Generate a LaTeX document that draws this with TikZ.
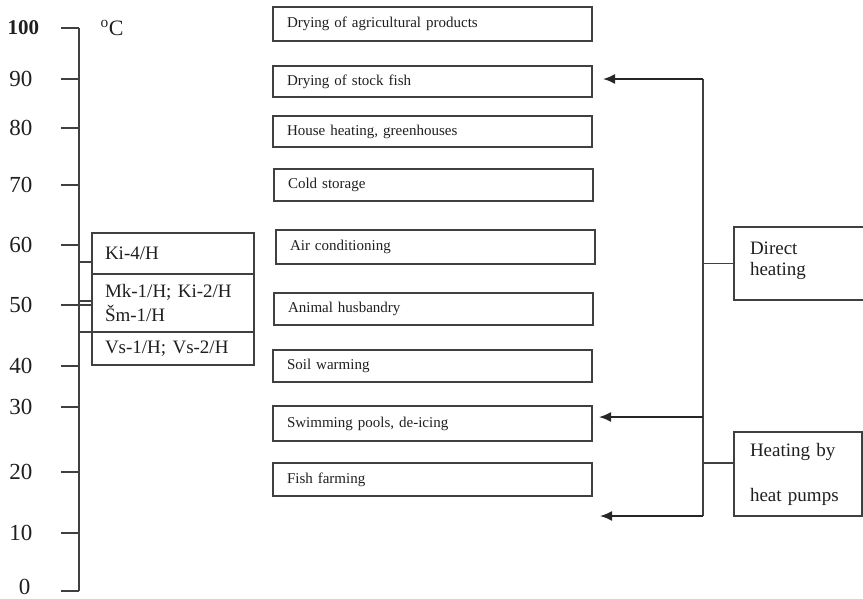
\documentclass[tikz,border=0pt]{standalone}
\usepackage{fontspec}
\setmainfont{Liberation Serif}
\usetikzlibrary{arrows.meta,positioning}

\begin{document}
\begin{tikzpicture}[
  x=1pt,y=-1pt,
  color=black!75, line width=1.1pt,
  every node/.style={text=black!88},
  usebox/.style={draw,rectangle,anchor=north west,outer sep=0pt,text width=291pt,inner xsep=14pt,inner ysep=0pt,align=left,font=\fontsize{15}{18}\selectfont},
  site/.style={draw,rectangle,anchor=north west,outer sep=0pt,text width=136pt,inner xsep=13pt,inner ysep=0pt,align=left,font=\fontsize{19}{24}\selectfont},
  mode/.style={draw,rectangle,anchor=north west,outer sep=0pt,inner xsep=16pt,inner ysep=0pt,align=left,font=\fontsize{19}{21}\selectfont},
  tick/.style={font=\fontsize{23}{23}\selectfont,anchor=east,inner sep=0pt},
  feed/.style={->,line width=1.8pt,black!85},
  >={Latex[length=12pt,width=10pt]}]
  \useasboundingbox (0,0) rectangle (863,598);
  % temperature scale
  \coordinate (axtop) at (79,28);
  \coordinate (axbot) at (79,591);
  \draw (axtop) -- (axbot);
  \draw (61,28) -- (axtop);
  \node[font=\fontsize{21}{21}\selectfont\bfseries,anchor=west,inner sep=0pt] (l100) at (7,28) {100};
  \foreach \v/\y in {90/79,80/128,70/185,60/245,50/305,40/366,30/407,20/472,10/533}{
    \draw (61,\y) -- (79,\y);
    \node[tick] (l\v) at (33,\y) {\v};
  }
  \draw (61,591) -- (axbot);
  \node[tick] (l0) at (31,587) {0};
  \node[font=\fontsize{22}{22}\selectfont,anchor=west,inner sep=0pt] (unit) at (100,28) {\textsuperscript{o}C};
  % sites
  \node[site,minimum height=41pt] (ki4) at (92,233) {Ki-4/H};
  \node[site,minimum height=58pt,below=0pt of ki4] (mk) {Mk-1/H; Ki-2/H\\Šm-1/H};
  \node[site,minimum height=33pt,below=0pt of mk] (vs) {Vs-1/H; Vs-2/H};
  \coordinate (k1) at (79,262);
  \coordinate (k2) at (79,301);
  \coordinate (k3) at (79,305);
  \coordinate (k4) at (79,332);
  \foreach \c in {k1,k2,k3,k4} \draw (\c) -- (\c -| ki4.west);
  % uses
  \node[usebox,minimum height=34pt] (agri) at (273,7) {Drying of agricultural products};
  \node[usebox,minimum height=31pt] (stock) at (273,66) {Drying of stock fish};
  \node[usebox,minimum height=31pt] (house) at (273,116) {House heating, greenhouses};
  \node[usebox,minimum height=32pt] (cold) at (274,169) {Cold storage};
  \node[usebox,minimum height=34pt] (air) at (276,230) {Air conditioning};
  \node[usebox,minimum height=32pt] (animal) at (274,293) {Animal husbandry};
  \node[usebox,minimum height=32pt] (soil) at (273,350) {Soil warming};
  \node[usebox,minimum height=35pt] (pool) at (273,406) {Swimming pools, de-icing};
  \node[usebox,minimum height=33pt] (fish) at (273,463) {Fish farming};
  % heating modes
  \node[mode,text width=100pt,minimum height=73pt,text depth=30pt] (direct) at (734,227) {Direct\\heating};
  \node[mode,text width=96pt,minimum height=84pt] (pumps) at (734,432) {Heating by\\[24pt]heat pumps};
  \coordinate (j1) at (703,79);
  \coordinate (j2) at (703,417);
  \coordinate (j3) at (703,516);
  \coordinate (a1) at (603,79);
  \coordinate (a2) at (599,417);
  \coordinate (a3) at (600,516);
  \draw (j1) -- (j3);
  \draw[feed] (j1) -- (a1);
  \draw[feed] (j2) -- (a2);
  \draw[feed] (j3) -- (a3);
  \draw (direct.west) -- (direct.west -| j1);
  \draw ([yshift=11pt]pumps.west) -- ([yshift=11pt]pumps.west -| j1);
\end{tikzpicture}
\end{document}
